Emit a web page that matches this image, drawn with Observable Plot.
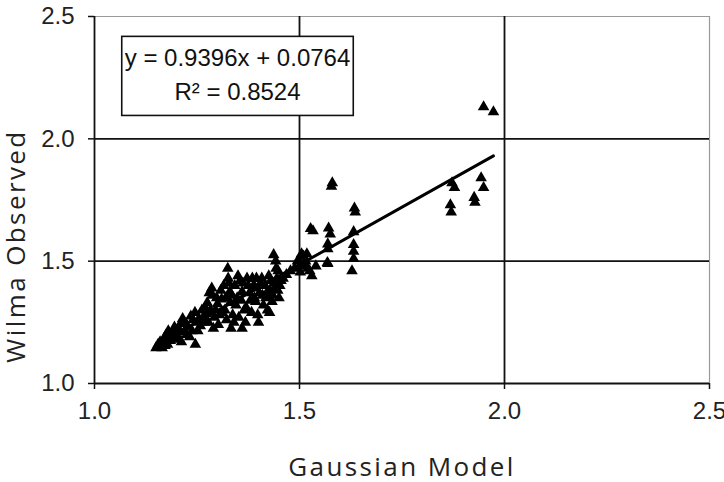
<!DOCTYPE html>
<html>
<head>
<meta charset="utf-8">
<script src="https://cdn.jsdelivr.net/npm/d3@7"></script>
<script src="https://cdn.jsdelivr.net/npm/@observablehq/plot@0.6"></script>
<style>
  html, body { margin: 0; padding: 0; background: #fff; }
  #chart { width: 724px; height: 482px; }
</style>
</head>
<body>
<div id="chart"></div>
<script>
// ---- data ----
const gaussian = [
  1.150,1.158,1.165,1.172,1.167,1.178,1.185,1.184,1.192,1.200,1.196,1.205,1.212,1.218,1.223,1.228,1.235,1.240,1.246,1.250,
  1.252,1.258,1.265,1.270,1.272,1.278,1.286,1.288,1.290,1.295,1.300,1.305,1.310,1.318,1.325,1.326,1.330,1.331,1.333,1.337,
  1.342,1.348,1.355,1.360,1.360,1.365,1.370,1.375,1.380,1.385,1.393,1.393,1.400,1.405,1.410,1.416,1.420,1.427,1.430,1.433,
  1.437,1.440,1.442,1.445,1.448,1.450,1.452,
  1.155,1.160,1.170,1.175,1.180,1.188,1.195,1.205,1.210,1.215,1.225,1.232,1.238,1.245,1.255,1.262,1.268,1.275,1.280,1.283,
  1.292,1.298,1.302,1.308,1.312,1.315,1.320,1.322,1.328,1.335,1.340,1.345,1.350,1.352,1.358,1.362,1.368,1.372,1.378,1.383,
  1.388,1.390,1.395,1.398,1.402,1.408,1.412,1.418,1.422,1.425,1.428,1.435,1.438,1.443,1.447,1.455,1.460,1.468,1.478,1.488,
  1.495,1.502,1.505,1.512,
  1.500,1.507,1.510,1.515,1.518,1.520,1.525,1.530,1.533,1.540,1.569,1.569,1.569,1.571,1.575,1.578,1.580,1.632,1.632,1.632,
  1.632,1.634,1.636,1.628,1.527,1.568,
  1.872,1.878,1.868,1.870,1.943,1.949,1.926,1.928,1.949,1.973
];
const observed = [
  1.145,1.150,1.145,1.155,1.170,1.160,1.175,1.195,1.185,1.200,1.215,1.180,1.170,1.210,1.245,1.230,1.275,1.260,1.160,1.250,
  1.215,1.235,1.270,1.310,1.285,1.250,1.390,1.360,1.225,1.300,1.325,1.280,1.345,1.300,1.470,1.430,1.375,1.330,1.225,1.280,
  1.400,1.350,1.420,1.375,1.225,1.300,1.310,1.400,1.340,1.430,1.390,1.335,1.250,1.410,1.360,1.400,1.370,1.290,1.420,1.335,
  1.526,1.390,1.500,1.430,1.460,1.350,1.400,
  1.160,1.170,1.185,1.200,1.215,1.205,1.230,1.225,1.245,1.265,1.200,1.190,1.215,1.290,1.265,1.300,1.250,1.330,1.370,1.300,
  1.270,1.350,1.240,1.380,1.290,1.400,1.350,1.260,1.410,1.360,1.250,1.320,1.440,1.270,1.340,1.410,1.250,1.430,1.370,1.290,
  1.400,1.350,1.430,1.280,1.370,1.430,1.320,1.350,1.300,1.440,1.380,1.360,1.410,1.470,1.380,1.420,1.430,1.445,1.460,1.470,
  1.500,1.455,1.530,1.490,
  1.500,1.480,1.520,1.500,1.530,1.470,1.460,1.440,1.624,1.480,1.570,1.550,1.490,1.635,1.610,1.806,1.820,1.620,1.567,1.540,
  1.510,1.717,1.700,1.460,1.633,1.494,
  1.820,1.800,1.730,1.700,1.840,1.800,1.760,1.740,2.130,2.110
];
const xTicks = [1.0, 1.5, 2.0, 2.5];
const yTicks = [1.0, 1.5, 2.0, 2.5];
const slope = 0.9396;
const intercept = 0.0764;
const rSquared = 0.8524;
const xLabel = "Gaussian Model";
const yLabel = "Wilma Observed";

// ---- derived tables ----
const points = gaussian.map((g, i) => ({g, o: observed[i]}));
const trend = d3.extent(gaussian).map(g => ({g, o: slope * g + intercept}));
const equation = `y = ${slope}x + ${intercept}\nR² = ${rSquared}`;
const inner = v => v > 1 && v < 2.5;

const tickFont = "'Liberation Sans', Arial, sans-serif";
const labelFont = "'Open Sans', 'Noto Sans', sans-serif";

const plot = Plot.plot({
  width: 724,
  height: 482,
  marginLeft: 94,
  marginRight: 15,
  marginTop: 16,
  marginBottom: 99,
  x: {domain: [1, 2.5]},
  y: {domain: [1, 2.5]},
  style: {background: "#fff", fontFamily: tickFont, color: "#111"},
  marks: [
    Plot.ruleX([2.5], {stroke: "#999", strokeWidth: 1.2}),
    Plot.ruleY([2.5], {stroke: "#999", strokeWidth: 1.2}),
    Plot.ruleX(xTicks.filter(inner), {stroke: "#111", strokeWidth: 1.8}),
    Plot.ruleY(yTicks.filter(inner), {stroke: "#111", strokeWidth: 1.8}),
    Plot.ruleX([1], {stroke: "#111", strokeWidth: 1.8}),
    Plot.ruleY([1], {stroke: "#111", strokeWidth: 1.8}),
    Plot.axisX({ticks: xTicks, tickFormat: d3.format(".1f"), tickSize: 6, tickPadding: 12,
                fontSize: 24, label: null, strokeWidth: 1.5, fill: "#222"}),
    Plot.axisY({ticks: yTicks, tickFormat: d3.format(".1f"), tickSize: 6, tickPadding: 14,
                fontSize: 24, label: null, strokeWidth: 1.5, fill: "#222"}),
    Plot.line(trend, {x: "g", y: "o", stroke: "#000", strokeWidth: 3}),
    Plot.dot(points, {x: "g", y: "o", symbol: "triangle", fill: "#000", stroke: "none", r: 4.3}),
    Plot.text([equation], {frameAnchor: "top-left", dx: 143, dy: 56, textAnchor: "middle",
                           lineAnchor: "middle", lineHeight: 1.42, fontSize: 24, fill: "#111",
                           className: "eq"}),
    Plot.text([xLabel], {frameAnchor: "bottom", dy: 84, textAnchor: "middle", lineAnchor: "middle",
                         fontSize: 26, fontFamily: labelFont, fill: "#222"}),
    Plot.text([yLabel], {frameAnchor: "left", dx: -78, dy: 46, rotate: -90, textAnchor: "middle",
                         lineAnchor: "middle", fontSize: 26, fontFamily: labelFont, fill: "#222"})
  ]
});

document.getElementById("chart").appendChild(plot);

// letter spacing for the axis titles
d3.select(plot).selectAll("text").filter(function() {
  const t = this.textContent; return t === xLabel || t === yLabel;
}).attr("letter-spacing", "2.4px");

// box around the regression equation
const eqG = plot.querySelector("g.eq");
if (eqG) {
  const bb = eqG.getBBox();
  d3.select(eqG).insert("rect", ":first-child")
    .attr("x", bb.x - 3).attr("y", bb.y - 8)
    .attr("width", bb.width + 6).attr("height", bb.height + 18)
    .attr("fill", "#fff").attr("stroke", "#111").attr("stroke-width", 1.6);
}
</script>
</body>
</html>
